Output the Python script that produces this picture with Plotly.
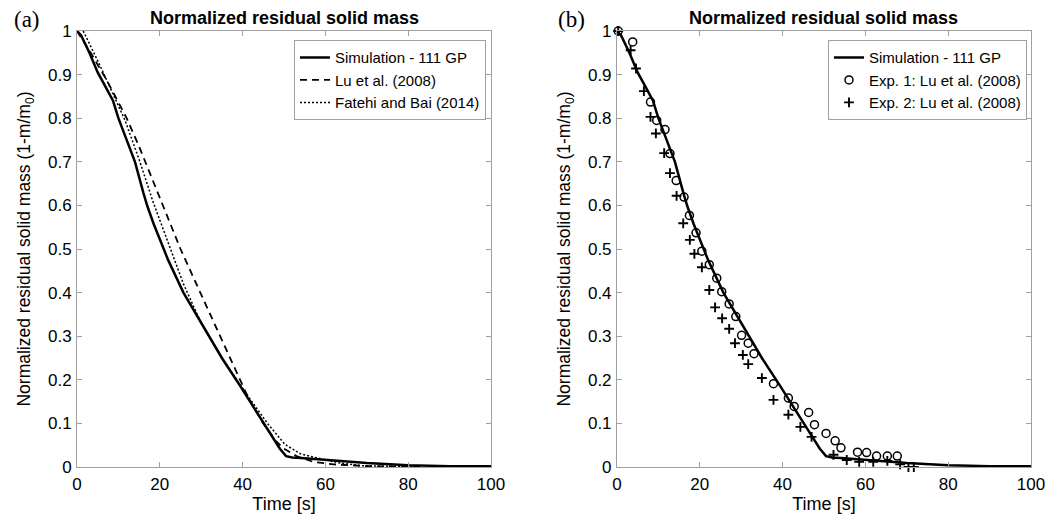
import plotly.graph_objects as go

# ---- data ----
sim_t = [0, 1, 3, 5, 7, 8.7, 10, 12, 14, 16, 17, 18.5, 20, 22, 25.7, 30, 35, 39.4, 41, 44.2, 47, 49, 50.5, 52, 55, 60, 70, 80, 90, 100]
sim_y = [1, 0.99, 0.95, 0.905, 0.87, 0.84, 0.80, 0.75, 0.70, 0.63, 0.598, 0.558, 0.522, 0.475, 0.40, 0.33, 0.25, 0.186, 0.162, 0.113, 0.07, 0.042, 0.025, 0.022, 0.02, 0.016, 0.009, 0.004, 0.002, 0.002]

lu_t = [0, 3, 7.2, 12, 15, 18, 21, 25, 30.5, 35, 41.3, 45, 48, 50, 53, 57, 62, 70, 83]
lu_y = [1, 0.955, 0.887, 0.80, 0.735, 0.665, 0.595, 0.50, 0.385, 0.29, 0.16, 0.10, 0.06, 0.042, 0.025, 0.012, 0.006, 0.002, 0.0]

fb_t = [1.5, 3, 5.6, 8, 10, 11.6, 13.5, 15.2, 18.3, 21, 25.7, 30, 35, 41.8, 46, 50.2, 54, 57.9, 63, 68.5, 75, 83]
fb_y = [1, 0.972, 0.92, 0.87, 0.83, 0.795, 0.745, 0.70, 0.61, 0.54, 0.42, 0.33, 0.25, 0.156, 0.10, 0.052, 0.03, 0.021, 0.01, 0.003, 0.001, 0.0]

exp1_t = [0.3, 3.8, 8.1, 9.6, 11.6, 12.8, 14.3, 16.2, 17.5, 19.1, 20.5, 22.3, 24.1, 25.3, 27.1, 28.7, 30.1, 31.7, 33.1,
          37.8, 41.4, 42.8, 46.3, 47.7, 50.5, 52.7, 54.1, 58.1, 60.3, 62.7, 65.3, 67.7]
exp1_y = [1.0, 0.975, 0.837, 0.795, 0.774, 0.719, 0.657, 0.619, 0.577, 0.537, 0.495, 0.464, 0.433, 0.402, 0.374, 0.345, 0.302, 0.284, 0.26,
          0.191, 0.158, 0.139, 0.125, 0.097, 0.077, 0.06, 0.044, 0.034, 0.033, 0.025, 0.025, 0.025]

exp2_t = [0.3, 3.3, 4.6, 6.5, 8.1, 9.4, 11.4, 12.8, 14.4, 16.0, 17.6, 18.7, 20.5, 22.3, 23.7, 25.4, 27.1, 28.5, 30.4, 31.7,
          35.0, 37.8, 41.4, 44.3, 47.0, 52.3, 55.5, 58.5, 61.9, 65.3, 68.4, 70.4, 71.7]
exp2_y = [1.0, 0.956, 0.914, 0.862, 0.803, 0.765, 0.72, 0.674, 0.622, 0.559, 0.521, 0.489, 0.458, 0.406, 0.366, 0.341, 0.317, 0.284, 0.257, 0.236,
          0.204, 0.154, 0.12, 0.092, 0.069, 0.028, 0.016, 0.012, 0.012, 0.014, 0.006, 0.0, 0.0]

x_ticks = [0, 20, 40, 60, 80, 100]
y_ticks = [0, 0.1, 0.2, 0.3, 0.4, 0.5, 0.6, 0.7, 0.8, 0.9, 1]
y_tick_text = ["0", "0.1", "0.2", "0.3", "0.4", "0.5", "0.6", "0.7", "0.8", "0.9", "1"]

title_text = "Normalized residual solid mass"
ylabel = "Normalized residual solid mass (1-m/m<sub>0</sub>)"
xlabel = "Time [s]"

FONT = "Liberation Sans, Arial, sans-serif"
AX = "#a0a0a0"

fig = go.Figure()

# panel (a)
fig.add_trace(go.Scatter(x=sim_t, y=sim_y, mode="lines", name="Simulation - 111 GP",
                         line=dict(color="black", width=2.5), xaxis="x", yaxis="y", legend="legend"))
fig.add_trace(go.Scatter(x=lu_t, y=lu_y, mode="lines", name="Lu et al. (2008)",
                         line=dict(color="black", width=1.8, dash="7px,5px"), xaxis="x", yaxis="y", legend="legend"))
fig.add_trace(go.Scatter(x=fb_t, y=fb_y, mode="lines", name="Fatehi and Bai (2014)",
                         line=dict(color="black", width=1.5, dash="2px,2px"), xaxis="x", yaxis="y", legend="legend"))

# panel (b)
fig.add_trace(go.Scatter(x=sim_t, y=sim_y, mode="lines", name="Simulation - 111 GP",
                         line=dict(color="black", width=2.5), xaxis="x2", yaxis="y2", legend="legend2"))
fig.add_trace(go.Scatter(x=exp1_t, y=exp1_y, mode="markers", name="Exp. 1: Lu et al. (2008)",
                         marker=dict(symbol="circle-open", size=8, color="black", line=dict(width=1.5, color="black")),
                         xaxis="x2", yaxis="y2", legend="legend2", cliponaxis=False))
fig.add_trace(go.Scatter(x=exp2_t, y=exp2_y, mode="markers", name="Exp. 2: Lu et al. (2008)",
                         marker=dict(symbol="cross-thin-open", size=7, color="black", line=dict(width=1.9, color="black")),
                         xaxis="x2", yaxis="y2", legend="legend2", cliponaxis=False))

axis_common = dict(showline=True, linecolor=AX, linewidth=1, mirror="ticks", ticks="inside",
                   tickcolor=AX, ticklen=5, tickwidth=1, showgrid=False, zeroline=False, automargin=False,
                   tickfont=dict(family=FONT, size=17, color="black"))

xcommon = dict(axis_common, range=[0, 100], tickvals=x_ticks, ticklabelstandoff=2,
               title=dict(text=xlabel, font=dict(family=FONT, size=18, color="black"), standoff=9))
ycommon = dict(axis_common, range=[0, 1], tickvals=y_ticks, ticktext=y_tick_text, ticklabelstandoff=1,
               title=dict(text=ylabel, font=dict(family=FONT, size=17.5, color="black"), standoff=12))

legend_common = dict(bgcolor="white", bordercolor=AX, borderwidth=1, font=dict(family=FONT, size=15, color="black"),
                     xanchor="right", yanchor="top", tracegroupgap=0, itemwidth=30)

fig.update_layout(
    width=1047, height=514,
    margin=dict(l=77, r=16, t=31, b=47, autoexpand=False),
    paper_bgcolor="white", plot_bgcolor="white",
    showlegend=True,
    xaxis=dict(xcommon, domain=[0, 0.434], anchor="y"),
    yaxis=dict(ycommon, domain=[0, 1], anchor="x"),
    xaxis2=dict(xcommon, domain=[0.566, 1], anchor="y2"),
    yaxis2=dict(ycommon, domain=[0, 1], anchor="x2"),
    legend=dict(legend_common, x=0.4287, y=0.979),
    legend2=dict(legend_common, x=0.9958, y=0.979),
    annotations=[
        dict(text="<b>" + title_text + "</b>", x=0.217, y=1.0, xref="paper", yref="paper",
             xanchor="center", yanchor="bottom", yshift=1, showarrow=False,
             font=dict(family=FONT, size=18, color="black")),
        dict(text="<b>" + title_text + "</b>", x=0.783, y=1.0, xref="paper", yref="paper",
             xanchor="center", yanchor="bottom", yshift=1, showarrow=False,
             font=dict(family=FONT, size=18, color="black")),
        dict(text="(a)", x=-0.0524, y=1.0275, xref="paper", yref="paper", xanchor="center", yanchor="middle",
             showarrow=False, font=dict(family="Liberation Serif, DejaVu Serif, serif", size=23, color="black")),
        dict(text="(b)", x=0.5185, y=1.0275, xref="paper", yref="paper", xanchor="center", yanchor="middle",
             showarrow=False, font=dict(family="Liberation Serif, DejaVu Serif, serif", size=23, color="black")),
    ],
)

fig.write_html("out.html", config={"displayModeBar": False},
               post_script="document.body.style.margin='0';document.body.style.overflow='hidden';")
